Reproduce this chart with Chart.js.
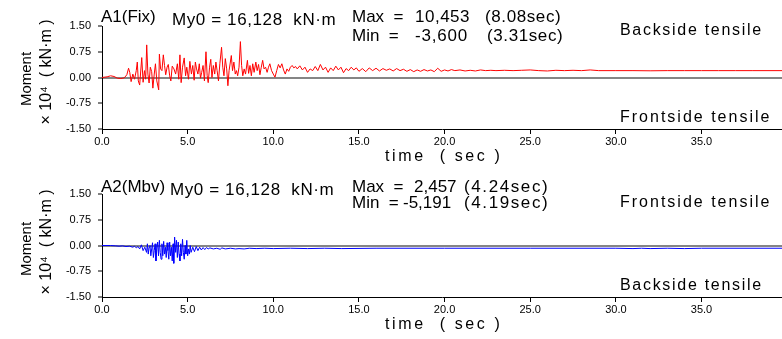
<!DOCTYPE html>
<html>
<head>
<meta charset="utf-8">
<script src="https://cdn.jsdelivr.net/npm/chart.js@4.4.1/dist/chart.umd.min.js"></script>
<style>
  html, body { margin: 0; padding: 0; background: #fff; }
  #wrap { position: relative; width: 782px; height: 339px; overflow: hidden; }
  .box { position: absolute; left: 0; width: 782px; }
</style>
</head>
<body>
<div id="wrap">
  <div class="box" style="top:0;height:170px"><canvas id="chartFix" width="782" height="170"></canvas></div>
  <div class="box" style="top:170px;height:169px"><canvas id="chartMbv" width="782" height="169"></canvas></div>
</div>
<script>
// A1 (Fix) moment history, x10^4 kN·m
const fixTime = [
  0.0, 0.3, 0.5, 0.7, 0.9, 1.1, 1.3, 1.45, 1.55, 1.62, 1.7, 1.8, 1.9, 2.0, 2.06, 2.12, 2.2, 2.32, 2.4, 2.48,
  2.55, 2.61, 2.68, 2.75, 2.82, 2.9, 2.97, 3.05, 3.12, 3.2, 3.31, 3.35, 3.42, 3.5, 3.58, 3.65, 3.72, 3.8, 3.87, 3.95,
  4.02, 4.1, 4.2, 4.3, 4.4, 4.48, 4.55, 4.62, 4.7, 4.8, 4.88, 4.95, 5.05, 5.13, 5.22, 5.3, 5.38, 5.45, 5.52, 5.6,
  5.68, 5.75, 5.82, 5.9, 5.98, 6.07, 6.14, 6.2, 6.28, 6.35, 6.42, 6.5, 6.58, 6.65, 6.72, 6.8, 6.88, 6.98, 7.05, 7.12,
  7.2, 7.28, 7.35, 7.42, 7.55, 7.62, 7.7, 7.78, 7.85, 7.92, 8.0, 8.08, 8.15, 8.22, 8.3, 8.38, 8.49, 8.56, 8.64, 8.72,
  8.8, 8.88, 8.98, 9.06, 9.14, 9.22, 9.3, 9.38, 9.46, 9.55, 9.64, 9.72, 9.8, 9.9, 10.0, 10.1, 10.2, 10.3, 10.4, 10.5,
  10.6, 10.7, 10.8, 10.9, 11.0, 11.1, 11.2, 11.3, 11.4, 11.55, 11.7, 11.85, 12.0, 12.15, 12.3, 12.45, 12.6, 12.75, 12.9, 13.05,
  13.2, 13.35, 13.5, 13.65, 13.8, 13.95, 14.1, 14.25, 14.4, 14.55, 14.7, 14.85, 15.0, 15.2, 15.4, 15.6, 15.8, 16.0, 16.2, 16.4,
  16.6, 16.8, 17.0, 17.2, 17.4, 17.6, 17.8, 18.0, 18.2, 18.4, 18.6, 18.8, 19.0, 19.2, 19.4, 19.6, 19.8, 20.0, 20.2, 20.4,
  20.6, 20.9, 21.2, 21.5, 21.8, 22.1, 22.4, 22.7, 23.0, 23.5, 24.0, 24.5, 25.0, 25.5, 26.0, 26.5, 27.0, 27.5, 28.0, 28.5,
  29.0, 30.0, 31.0, 32.0, 33.0, 34.0, 35.0, 36.0, 37.0, 38.0, 39.7
];
const fixMoment = [
  0.00, 0.02, 0.05, 0.03, -0.02, -0.03, -0.01, 0.08, 0.27, 0.15, -0.12, 0.10, -0.05, 0.20, 0.45, -0.10, -0.22, 0.58, -0.14, 0.20,
  -0.05, 0.95, 0.10, -0.16, 0.30, 0.17, -0.31, 0.10, 0.40, -0.10, -0.36, 0.68, 0.25, 0.20, 0.66, 0.35, 0.08, 0.30, 0.38, 0.05,
  -0.10, 0.33, 0.25, 0.10, 0.40, -0.05, 0.66, -0.15, 0.30, 0.57, 0.05, 0.30, -0.05, 0.47, 0.10, 0.35, -0.08, 0.45, 0.25, 0.10,
  0.40, -0.02, 0.15, 0.35, -0.10, 0.75, 0.05, -0.15, 0.30, 0.53, 0.00, 0.35, 0.10, 0.45, 0.20, -0.10, 0.40, 0.88, 0.30, 0.05,
  0.55, 0.25, -0.24, 0.20, 0.64, 0.20, 0.45, 0.10, 0.20, 0.05, 0.30, 1.045, 0.35, 0.05, 0.25, 0.10, 0.50, 0.12, 0.35, 0.05,
  0.40, 0.15, 0.45, 0.20, 0.38, 0.08, 0.30, 0.50, 0.25, 0.30, 0.15, 0.30, 0.40, 0.20, 0.10, 0.01, 0.20, 0.38, 0.28, 0.40,
  0.22, 0.10, 0.25, 0.18, 0.30, 0.35, 0.28, 0.32, 0.25, 0.34, 0.22, 0.30, 0.15, 0.25, 0.20, 0.32, 0.20, 0.38, 0.22, 0.30,
  0.15, 0.28, 0.20, 0.33, 0.22, 0.30, 0.14, 0.26, 0.20, 0.30, 0.22, 0.28, 0.18, 0.26, 0.17, 0.28, 0.20, 0.27, 0.19, 0.26,
  0.21, 0.25, 0.19, 0.26, 0.20, 0.24, 0.18, 0.23, 0.17, 0.22, 0.18, 0.23, 0.19, 0.22, 0.17, 0.27, 0.18, 0.22, 0.19, 0.23,
  0.20, 0.22, 0.19, 0.21, 0.19, 0.22, 0.20, 0.21, 0.20, 0.21, 0.20, 0.21, 0.22, 0.20, 0.19, 0.21, 0.20, 0.21, 0.20, 0.22,
  0.20, 0.20, 0.20, 0.195, 0.20, 0.20, 0.20, 0.20, 0.20, 0.20, 0.20
];

// A2 (Mbv) moment history, x10^4 kN·m
const mbvTime = [
  0.0, 0.5, 0.8, 1.0, 1.2, 1.4, 1.6, 1.8, 1.9, 2.0, 2.1, 2.2, 2.3, 2.4, 2.5, 2.6, 2.65, 2.7, 2.75, 2.8,
  2.85, 2.9, 2.95, 3.0, 3.05, 3.1, 3.15, 3.2, 3.25, 3.3, 3.35, 3.4, 3.45, 3.5, 3.55, 3.6, 3.65, 3.7, 3.75, 3.8,
  3.85, 3.9, 3.95, 4.0, 4.05, 4.1, 4.15, 4.19, 4.24, 4.3, 4.35, 4.4, 4.45, 4.5, 4.55, 4.6, 4.65, 4.7, 4.75, 4.8,
  4.85, 4.9, 4.95, 5.0, 5.05, 5.1, 5.15, 5.2, 5.3, 5.4, 5.5, 5.6, 5.7, 5.8, 5.9, 6.0, 6.1, 6.2, 6.3, 6.5,
  6.7, 6.9, 7.0, 7.2, 7.5, 7.8, 8.0, 8.3, 8.6, 9.0, 9.5, 10.0, 11.0, 12.0, 13.0, 14.0, 16.0, 20.0, 25.0, 30.0,
  31.0, 31.5, 32.0, 33.0, 34.0, 35.0, 39.7
];
const mbvMoment = [
  0.00, 0.00, -0.01, -0.02, -0.01, -0.03, -0.02, -0.05, -0.02, -0.07, -0.03, -0.10, 0.02, -0.15, -0.05, -0.20, 0.05, -0.25, -0.05, 0.00,
  -0.30, -0.10, 0.08, -0.35, -0.15, 0.05, -0.45, -0.10, 0.10, -0.30, 0.15, -0.20, -0.40, 0.05, -0.30, 0.12, -0.25, -0.05, -0.35, 0.08,
  -0.15, -0.40, 0.10, -0.30, -0.05, -0.45, 0.05, -0.519, 0.2457, -0.20, 0.15, -0.35, 0.10, -0.25, -0.45, 0.05, -0.30, 0.18, -0.20, -0.40,
  0.00, -0.25, 0.15, -0.30, -0.10, -0.25, 0.00, -0.20, -0.05, -0.18, -0.03, -0.15, -0.05, -0.13, -0.06, -0.12, -0.06, -0.10, -0.07, -0.10,
  -0.08, -0.11, -0.07, -0.10, -0.08, -0.10, -0.09, -0.10, -0.08, -0.09, -0.08, -0.09, -0.08, -0.09, -0.08, -0.09, -0.08, -0.08, -0.08, -0.08,
  -0.09, -0.08, -0.09, -0.08, -0.09, -0.08, -0.08
];

const X_MAX = 39.7;
const FONT = '"Liberation Sans", Arial, sans-serif';

const notesPlugin = {
  id: 'notes',
  afterDraw(chart) {
    const notes = chart.options.plugins.notes.items || [];
    const ctx = chart.ctx;
    ctx.save();
    ctx.fillStyle = '#000';
    ctx.textBaseline = 'middle';
    notes.forEach(n => {
      ctx.save();
      ctx.font = (n.size || 16) + 'px ' + FONT;
      ctx.letterSpacing = (n.ls || 0) + 'px';
      ctx.translate(n.x, n.y);
      if (n.rot) {
        ctx.rotate(-Math.PI / 2);
        ctx.textAlign = 'center';
      } else {
        ctx.textAlign = n.align || 'left';
      }
      ctx.fillText(n.text, 0, 0);
      ctx.restore();
    });
    ctx.restore();
  }
};

function makeChart(canvasId, times, values, color, areaTop, areaBottom, canvasH, notes) {
  const points = times.map((t, i) => ({ x: t, y: values[i] }));
  return new Chart(document.getElementById(canvasId), {
    type: 'line',
    data: {
      datasets: [{
        data: points,
        borderColor: color,
        borderWidth: 1,
        pointRadius: 0,
        tension: 0,
        fill: false
      }]
    },
    options: {
      responsive: false,
      animation: false,
      layout: { padding: { top: areaTop, right: 0, left: 0, bottom: 0 } },
      plugins: {
        legend: { display: false },
        tooltip: { enabled: false },
        notes: { items: notes }
      },
      scales: {
        x: {
          type: 'linear',
          min: 0,
          max: X_MAX,
          afterFit(scale) { scale.height = canvasH - areaBottom; },
          afterBuildTicks(scale) {
            scale.ticks = scale.ticks.filter(t => Math.abs(t.value % 5) < 1e-6);
          },
          border: { color: '#000', width: 1 },
          grid: { display: true, drawOnChartArea: false, tickLength: 5, color: '#000' },
          ticks: {
            stepSize: 5,
            padding: 1,
            color: '#000',
            font: { size: 11, family: FONT },
            maxRotation: 0,
            callback: v => Number(v).toFixed(1)
          }
        },
        y: {
          min: -1.5,
          max: 1.5,
          afterFit(scale) { scale.width = 102; },
          border: { color: '#000', width: 1 },
          grid: {
            color: ctx => (ctx.tick && ctx.tick.value === 0) ? '#858585' : 'rgba(0,0,0,0)',
            lineWidth: 2,
            tickLength: 4,
            tickColor: '#000',
            tickWidth: 1
          },
          ticks: {
            stepSize: 0.75,
            padding: 7,
            color: '#000',
            font: { size: 11, family: FONT },
            callback: v => Number(v).toFixed(2)
          }
        }
      }
    },
    plugins: [notesPlugin]
  });
}

makeChart('chartFix', fixTime, fixMoment, '#ff0000', 26, 129, 170, [
  { text: 'A1(Fix)', x: 101, y: 17, size: 17 },
  { text: 'My0 = 16,128  kN·m', x: 172, y: 20, size: 17, ls: 0.6 },
  { text: 'Max  =', x: 352, y: 17, size: 17 },
  { text: '10,453', x: 415, y: 17, size: 17, ls: 0.5 },
  { text: '(8.08sec)', x: 485, y: 17, size: 17, ls: 0.6 },
  { text: 'Min  =', x: 352, y: 36, size: 17 },
  { text: '-3,600', x: 415, y: 36, size: 17, ls: 0.8 },
  { text: '(3.31sec)', x: 487, y: 36, size: 17, ls: 0.6 },
  { text: 'Backside tensile', x: 620, y: 31, size: 16, ls: 1.7 },
  { text: 'Frontside tensile', x: 620, y: 118, size: 16, ls: 2.0 },
  { text: 'time  ( sec )', x: 385, y: 157, size: 16, ls: 2.6 },
  { text: 'Moment', x: 27, y: 79, size: 15, rot: true },
  { text: '× 10⁴  ( kN·m )', x: 47, y: 72, size: 16, rot: true }
]);

makeChart('chartMbv', mbvTime, mbvMoment, '#0000ff', 24, 127, 169, [
  { text: 'A2(Mbv)', x: 101, y: 17, size: 17 },
  { text: 'My0 = 16,128  kN·m', x: 170, y: 20, size: 17, ls: 0.6 },
  { text: 'Max  =', x: 352, y: 17, size: 17 },
  { text: '2,457', x: 414, y: 17, size: 17 },
  { text: '(4.24sec)', x: 464, y: 17, size: 17, ls: 1.6 },
  { text: 'Min  =', x: 352, y: 33, size: 17 },
  { text: '-5,191', x: 403, y: 33, size: 17 },
  { text: '(4.19sec)', x: 464, y: 33, size: 17, ls: 1.6 },
  { text: 'Frontside tensile', x: 620, y: 33, size: 16, ls: 2.0 },
  { text: 'Backside tensile', x: 620, y: 116, size: 16, ls: 1.7 },
  { text: 'time  ( sec )', x: 385, y: 155, size: 16, ls: 2.6 },
  { text: 'Moment', x: 27, y: 79, size: 15, rot: true },
  { text: '× 10⁴  ( kN·m )', x: 47, y: 72, size: 16, rot: true }
]);
</script>
</body>
</html>
